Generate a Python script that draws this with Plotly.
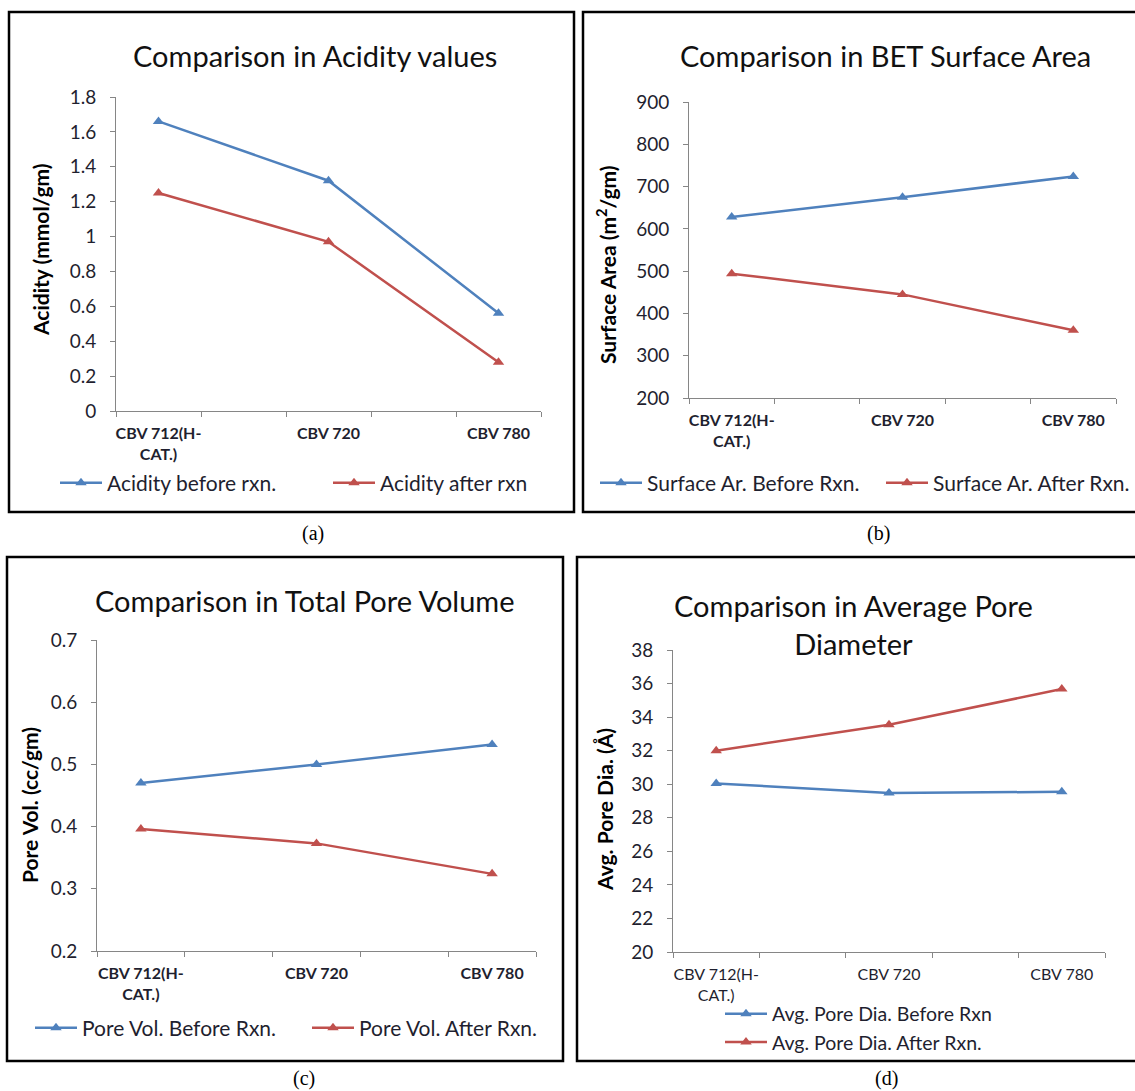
import plotly.graph_objects as go

W, H = 1135, 1091

categories = ["CBV 712(H-<br>CAT.)", "CBV 720", "CBV 780"]

acidity_before = [1.66, 1.32, 0.56]
acidity_after = [1.25, 0.97, 0.28]

surface_before = [628, 675, 724]
surface_after = [494, 445, 360]

porevol_before = [0.47, 0.50, 0.532]
porevol_after = [0.396, 0.373, 0.324]

poredia_before = [30.05, 29.47, 29.55]
poredia_after = [32.0, 33.55, 35.67]

BLUE = "#4F81BD"
RED = "#C0504D"
AXC = "#868686"
TXT = "#1f1f2f"
FONT = "Lato"


def px(x):
    return x / W


def py(y):
    return 1 - y / H


fig = go.Figure()

panels = [
    dict(xa="x", ya="y", xd=(116, 541), yd=(97, 411), yr=(0, 1.8), dt=0.2,
         s1=("Acidity before rxn.", acidity_before), s2=("Acidity after rxn", acidity_after),
         legend="legend", boldx=True),
    dict(xa="x2", ya="y2", xd=(689, 1116), yd=(102, 398), yr=(200, 900), dt=100,
         s1=("Surface Ar. Before Rxn.", surface_before), s2=("Surface Ar. After Rxn.", surface_after),
         legend="legend2", boldx=True),
    dict(xa="x3", ya="y3", xd=(97, 536), yd=(640, 951), yr=(0.2, 0.7), dt=0.1,
         s1=("Pore Vol. Before Rxn.", porevol_before), s2=("Pore Vol. After Rxn.", porevol_after),
         legend="legend3", boldx=True),
    dict(xa="x4", ya="y4", xd=(673, 1105), yd=(650, 952), yr=(20, 38), dt=2,
         s1=("Avg. Pore Dia. Before Rxn", poredia_before), s2=("Avg. Pore Dia. After Rxn.", poredia_after),
         legend="legend4", boldx=False),
]

xpos = list(range(len(categories)))
boundaries = [i * 0.5 - 0.25 for i in range(2 * len(categories))]

layout_axes = {}
for i, p in enumerate(panels):
    for (name, vals), col in ((p["s1"], BLUE), (p["s2"], RED)):
        fig.add_trace(go.Scatter(
            x=xpos, y=vals, name=name, mode="lines+markers",
            line=dict(color=col, width=2.5),
            marker=dict(symbol="triangle-up", size=10, color=col),
            xaxis=p["xa"], yaxis=p["ya"], legend=p["legend"],
        ))
    sfx = "" if i == 0 else str(i + 1)
    layout_axes["xaxis" + sfx] = dict(
        domain=[px(p["xd"][0]), px(p["xd"][1])],
        anchor="y" + sfx,
        range=[-0.25, 2.25],
        tickmode="array", tickvals=xpos, ticktext=categories,
        ticks="", showgrid=False, zeroline=False, automargin=False,
        showline=True, linecolor=AXC, linewidth=1,
        tickfont=dict(family=FONT, size=16, color=TXT,
                      weight="bold" if p["boldx"] else "normal"),
        ticklabelstandoff=8,
        minor=dict(tickmode="array", tickvals=boundaries, ticks="outside",
                   ticklen=5, tickcolor=AXC, tickwidth=1, showgrid=False),
        fixedrange=True,
    )
    layout_axes["yaxis" + sfx] = dict(
        domain=[py(p["yd"][1]), py(p["yd"][0])],
        anchor="x" + sfx,
        range=list(p["yr"]), dtick=p["dt"], tick0=p["yr"][0],
        ticks="outside", ticklen=5, tickcolor=AXC, tickwidth=1,
        showgrid=False, zeroline=False, automargin=False,
        showline=True, linecolor=AXC, linewidth=1,
        tickfont=dict(family=FONT, size=19, color=TXT),
        ticklabelstandoff=10,
        fixedrange=True,
    )

legend_common = dict(orientation="h", xanchor="left", yanchor="middle",
                     bgcolor="rgba(0,0,0,0)", borderwidth=0,
                     font=dict(family=FONT, size=21, color=TXT),
                     itemwidth=42, entrywidthmode="pixels")

fig.update_layout(
    width=W, height=H,
    margin=dict(l=0, r=0, t=0, b=0, pad=0, autoexpand=False),
    paper_bgcolor="white", plot_bgcolor="white",
    font=dict(family=FONT, color=TXT),
    legend=dict(legend_common, x=px(55), y=py(483), entrywidth=216),
    legend2=dict(legend_common, x=px(595), y=py(483), entrywidth=229),
    legend3=dict(legend_common, x=px(30), y=py(1028), entrywidth=220),
    legend4=dict(orientation="v", xanchor="left", yanchor="middle",
                 bgcolor="rgba(0,0,0,0)", borderwidth=0,
                 font=dict(family=FONT, size=19.5, color=TXT),
                 itemwidth=42, x=px(720), y=py(1028)),
    **layout_axes,
)

# panel titles
titles = [
    ("Comparison in Acidity values", 315, 55),
    ("Comparison in BET Surface Area", 885, 55),
    ("Comparison in Total Pore Volume", 305, 600),
    ("Comparison in Average Pore<br>Diameter", 853, 624),
]
for t, x, y in titles:
    fig.add_annotation(text=t, x=px(x), y=py(y), xref="paper", yref="paper",
                       showarrow=False, xanchor="center", yanchor="middle",
                       font=dict(family=FONT, size=29, color="#111"))

# y-axis titles
ytitles = [
    ("Acidity (mmol/gm)", 40, 250),
    ("Surface Area (m<sup>2</sup>/gm)", 606, 265),
    ("Pore Vol. (cc/gm)", 29, 805),
    ("Avg. Pore Dia. (Å)", 604, 810),
]
for t, x, y in ytitles:
    fig.add_annotation(text=t, x=px(x), y=py(y), xref="paper", yref="paper",
                       showarrow=False, xanchor="center", yanchor="middle",
                       textangle=-90,
                       font=dict(family=FONT, size=21, color="#000", weight="bold"))

# sub-figure labels
for t, x, y in (("(a)", 313, 533), ("(b)", 878, 533), ("(c)", 304, 1078), ("(d)", 886, 1078)):
    fig.add_annotation(text=t, x=px(x), y=py(y), xref="paper", yref="paper",
                       showarrow=False, xanchor="center", yanchor="middle",
                       font=dict(family="Liberation Serif", size=20, color="#000"))

# panel frames
for x0, y0, x1, y1 in ((9, 12, 574, 512), (583, 12, 1150, 512),
                       (7, 557, 563, 1061), (577, 557, 1150, 1061)):
    fig.add_shape(type="rect", xref="paper", yref="paper",
                  x0=px(x0), x1=px(x1), y0=py(y1), y1=py(y0),
                  line=dict(color="#000", width=2.5), fillcolor="rgba(0,0,0,0)")

fig.write_html("out.html")
